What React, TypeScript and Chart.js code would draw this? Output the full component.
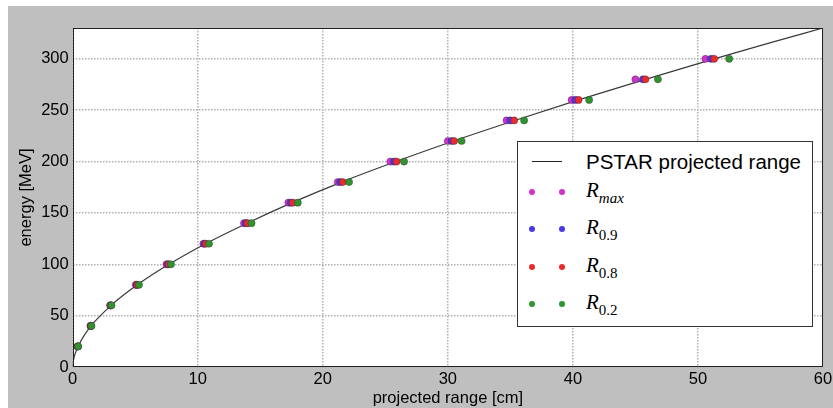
import React, { useEffect, useRef } from "react";
import { Chart, registerables } from "chart.js";

Chart.register(...registerables);

// ---- data ----
const energies = [20, 40, 60, 80, 100, 120, 140, 160, 180, 200, 220, 240, 260, 280, 300];
const rangeRmax = [0.39, 1.42, 3.0, 5.05, 7.5, 10.45, 13.7, 17.25, 21.2, 25.4, 30.0, 34.7, 39.9, 45.0, 50.6];
const rangeR09 = [0.4, 1.44, 3.02, 5.1, 7.6, 10.55, 13.85, 17.45, 21.4, 25.7, 30.3, 35.0, 40.2, 45.6, 51.05];
const rangeR08 = [0.41, 1.45, 3.04, 5.15, 7.68, 10.65, 13.97, 17.6, 21.6, 25.9, 30.5, 35.3, 40.45, 45.8, 51.3];
const rangeR02 = [0.44, 1.5, 3.1, 5.3, 7.86, 10.9, 14.3, 18.0, 22.1, 26.5, 31.1, 36.1, 41.3, 46.8, 52.5];

const pstarEnergy = [0, 1, 5, 10, 15, 20, 30, 40, 50, 60, 70, 80, 90, 100, 120, 140, 160, 180, 200, 220, 240, 260, 280, 300, 315, 330];
const pstarRange = [0, 0.0025, 0.036, 0.123, 0.254, 0.426, 0.885, 1.466, 2.22, 3.07, 4.07, 5.17, 6.38, 7.7, 10.62, 13.95, 17.55, 21.5, 25.85, 30.45, 35.35, 40.45, 45.8, 51.3, 55.6, 60.0];

const xTicks = [0, 10, 20, 30, 40, 50, 60];
const yTicks = [0, 50, 100, 150, 200, 250, 300];

const lineLabel = "PSTAR projected range";
const seriesNames = ["R_max", "R_0.9", "R_0.8", "R_0.2"];
const seriesColors = ["#cc33cc", "#4a38e6", "#e82c2c", "#2f942f"];

const framePlugin = {
  id: "frame",
  beforeDraw(chart: any) {
    const { ctx, chartArea: a, width, height } = chart;
    ctx.save();
    ctx.fillStyle = "#bfbfbf";
    ctx.fillRect(0, 0, width, height);
    ctx.fillStyle = "#ffffff";
    ctx.fillRect(a.left, a.top, a.right - a.left, a.bottom - a.top);
    ctx.restore();
  },
  afterDraw(chart: any) {
    const { ctx, chartArea: a } = chart;
    ctx.save();
    ctx.strokeStyle = "#222222";
    ctx.lineWidth = 1;
    const l = Math.round(a.left) + 0.5;
    const t = Math.round(a.top) + 0.5;
    const r = Math.round(a.right) - 0.5;
    const b = Math.round(a.bottom) - 0.5;
    ctx.strokeRect(l, t, r - l, b - t);
    ctx.restore();
  },
};

const tickFont = { family: "'Liberation Sans', Arial, sans-serif", size: 16.5 };

export default function App() {
  const ref = useRef<HTMLCanvasElement | null>(null);

  useEffect(() => {
    if (!ref.current) return;
    const pts = (xs: number[]) => xs.map((x, i) => ({ x, y: energies[i] }));
    const mk = (i: number, xs: number[]) => ({
      label: seriesNames[i],
      data: pts(xs),
      showLine: false,
      pointRadius: 3.6,
      pointBackgroundColor: seriesColors[i],
      pointBorderColor: "rgba(40,20,40,0.55)",
      pointBorderWidth: 0.6,
      order: 4 - i,
    });
    const chart = new Chart(ref.current, {
      type: "scatter",
      data: {
        datasets: [
          {
            label: lineLabel,
            data: pstarRange.map((x, i) => ({ x, y: pstarEnergy[i] })),
            showLine: true,
            borderColor: "#3a3a3a",
            borderWidth: 1.2,
            pointRadius: 0,
            cubicInterpolationMode: "monotone",
            order: 10,
          } as any,
          mk(0, rangeRmax),
          mk(1, rangeR09),
          mk(2, rangeR08),
          mk(3, rangeR02),
        ],
      },
      options: {
        animation: false,
        responsive: false,
        maintainAspectRatio: false,
        events: [],
        layout: { padding: { left: 0, top: 22, right: 10, bottom: 0 } },
        plugins: { legend: { display: false }, tooltip: { enabled: false } },
        scales: {
          x: {
            type: "linear",
            min: 0,
            max: 60,
            afterBuildTicks: (s: any) => {
              s.ticks = xTicks.map((v) => ({ value: v }));
            },
            afterFit: (s: any) => {
              s.height = 41;
              s.paddingLeft = 0;
              s.paddingRight = 0;
            },
            ticks: { font: tickFont, color: "#000", padding: 3 },
            grid: { color: "#b0b0b0", lineWidth: 1.5, drawTicks: false },
            border: { display: false, dash: [1.5, 1.5] },
            title: {
              display: true,
              text: "projected range [cm]",
              color: "#000",
              font: tickFont,
              padding: { top: 1, bottom: 0 },
            },
          },
          y: {
            type: "linear",
            min: 0,
            max: 330,
            afterBuildTicks: (s: any) => {
              s.ticks = yTicks.map((v) => ({ value: v }));
            },
            afterFit: (s: any) => {
              s.width = 64.7;
              s.paddingTop = 0;
              s.paddingBottom = 0;
            },
            ticks: { font: tickFont, color: "#000", padding: 4 },
            grid: { color: "#b0b0b0", lineWidth: 1.5, drawTicks: false },
            border: { display: false, dash: [1.5, 1.5] },
            title: {
              display: true,
              text: "energy [MeV]",
              color: "#000",
              font: tickFont,
              padding: { top: 9, bottom: 0 },
            },
          },
        },
      } as any,
      plugins: [framePlugin],
    });
    return () => chart.destroy();
  }, []);

  const rowY = [50.3, 87, 124.7, 162];
  const renderName = (name: string) => {
    const [base, sub] = name.split("_");
    const isDigits = /^[0-9.]+$/.test(sub);
    return (
      <span style={{ fontFamily: "'Liberation Serif', 'DejaVu Serif', serif", fontSize: 21, fontStyle: "italic", color: "#000" }}>
        {base}
        <sub style={{ fontSize: 15, fontStyle: isDigits ? "normal" : "italic", verticalAlign: "-6px", lineHeight: 0 }}>{sub}</sub>
      </span>
    );
  };

  return (
    <div style={{ position: "absolute", left: 8, top: 6, width: 825, height: 402, overflow: "hidden" }}>
      <canvas ref={ref} width={825} height={402} style={{ display: "block", width: 825, height: 402 }} />
      <div
        style={{
          position: "absolute",
          left: 509,
          top: 135,
          width: 296,
          height: 186,
          boxSizing: "border-box",
          border: "1px solid #333",
          background: "#fff",
        }}
      >
        <div style={{ position: "absolute", left: 13.7, top: 19, width: 30, height: 0, borderTop: "1.2px solid #222" }} />
        <div
          style={{
            position: "absolute",
            left: 68,
            top: 19.7 - 12,
            height: 24,
            lineHeight: "24px",
            fontFamily: "'Liberation Sans', Arial, sans-serif",
            fontSize: 20.5,
            color: "#000",
            whiteSpace: "nowrap",
          }}
        >
          {lineLabel}
        </div>
        {seriesNames.map((n, i) => (
          <React.Fragment key={n}>
            {[13.7, 43.7].map((cx) => (
              <div
                key={cx}
                style={{
                  position: "absolute",
                  left: cx - 3,
                  top: rowY[i] - 3,
                  width: 6,
                  height: 6,
                  borderRadius: "50%",
                  background: seriesColors[i],
                }}
              />
            ))}
            <div
              style={{
                position: "absolute",
                left: 68,
                top: rowY[i] - 14,
                height: 24,
                lineHeight: "24px",
                whiteSpace: "nowrap",
              }}
            >
              {renderName(n)}
            </div>
          </React.Fragment>
        ))}
      </div>
    </div>
  );
}
